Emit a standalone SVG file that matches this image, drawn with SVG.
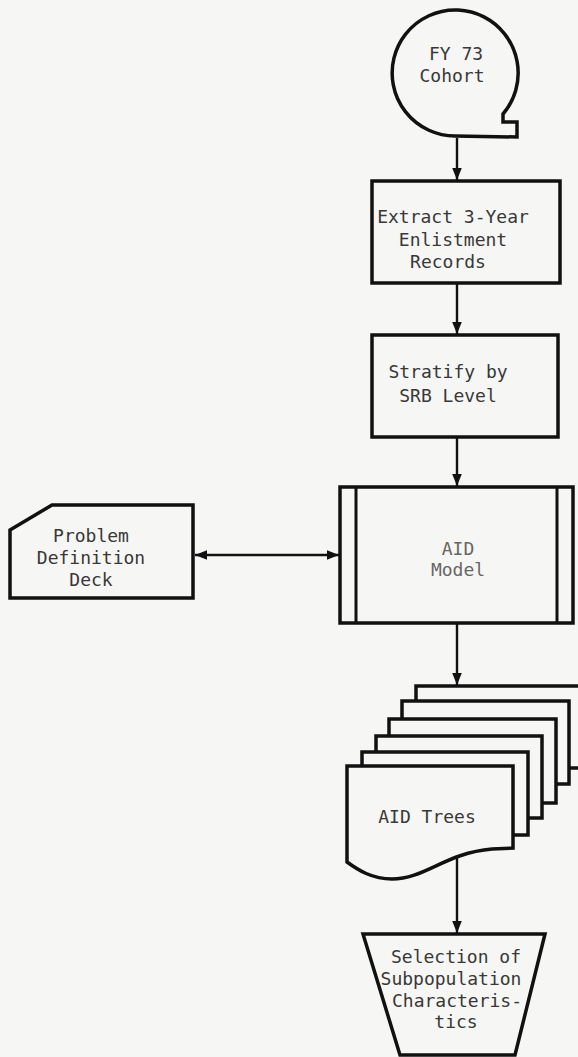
<svg xmlns="http://www.w3.org/2000/svg" width="578" height="1057" viewBox="0 0 578 1057">
<defs>
<style>
.s{fill:#f6f6f4;stroke:#111;stroke-width:3.5;stroke-linejoin:miter}
.c{fill:none;stroke:#111;stroke-width:2.4}
.t{font-family:"DejaVu Sans Mono","Liberation Mono",monospace;font-size:18px;fill:#383838;text-anchor:middle}
.g{fill:#666}
</style>
<marker id="ah" viewBox="0 0 10 10" refX="10" refY="5" markerWidth="12" markerHeight="12" markerUnits="userSpaceOnUse" orient="auto-start-reverse">
<path d="M0,1 L10,5 L0,9 Z" fill="#111"/>
</marker>
</defs>
<rect width="578" height="1057" fill="#f6f6f4"/>
<g id="connectors">
<line class="c" x1="457" y1="138" x2="457" y2="180" marker-end="url(#ah)"/>
<line class="c" x1="457" y1="284" x2="457" y2="334" marker-end="url(#ah)"/>
<line class="c" x1="457" y1="438" x2="457" y2="486" marker-end="url(#ah)"/>
<line class="c" x1="195" y1="555" x2="339" y2="555" marker-start="url(#ah)" marker-end="url(#ah)"/>
<line class="c" x1="457" y1="624" x2="457" y2="685" marker-end="url(#ah)"/>
<line class="c" x1="457" y1="858" x2="457" y2="933" marker-end="url(#ah)"/>
</g>
<g id="cohort">
<path class="s" d="M455,136 A63,63 0 1 1 503,114 L503,122 L517,122 L517,137 Z"/>
<text class="t" x="456" y="60">FY 73</text>
<text class="t" x="452" y="82">Cohort</text>
</g>
<g id="extract">
<rect class="s" x="372" y="181" width="188" height="102"/>
<text class="t" x="453" y="223">Extract 3-Year</text>
<text class="t" x="453" y="246">Enlistment</text>
<text class="t" x="448" y="268">Records</text>
</g>
<g id="stratify">
<rect class="s" x="372" y="335" width="186" height="102"/>
<text class="t" x="448" y="378">Stratify by</text>
<text class="t" x="448" y="402">SRB Level</text>
</g>
<g id="problem">
<path class="s" d="M52,505 L193,505 L193,598 L10,598 L10,530 Z"/>
<text class="t" x="91" y="542">Problem</text>
<text class="t" x="91" y="564">Definition</text>
<text class="t" x="91" y="586">Deck</text>
</g>
<g id="aid-model">
<rect class="s" x="340" y="487" width="233" height="136"/>
<line class="c" x1="356" y1="487" x2="356" y2="623" style="stroke-width:3"/>
<line class="c" x1="557" y1="487" x2="557" y2="623" style="stroke-width:3"/>
<text class="t g" x="458" y="555">AID</text>
<text class="t g" x="458" y="576">Model</text>
</g>
<g id="aid-trees">
<rect class="s" x="416" y="686" width="170" height="82"/>
<rect class="s" x="402" y="701" width="167" height="83"/>
<rect class="s" x="389" y="719" width="167" height="84"/>
<rect class="s" x="376" y="736" width="166" height="82"/>
<rect class="s" x="362" y="752" width="166" height="83"/>
<path class="s" d="M347,766 L513,766 L513,848 L492,849 C445,853 425,879 392,879 C372,879 358,870 347,862 Z"/>
<text class="t" x="427" y="823">AID Trees</text>
</g>
<g id="selection">
<path class="s" d="M363,934 L545,934 L515,1055 L400,1055 Z"/>
<text class="t" x="456" y="963">Selection of</text>
<text class="t" x="451" y="985">Subpopulation</text>
<text class="t" x="457" y="1007">Characteris-</text>
<text class="t" x="456" y="1028">tics</text>
</g>
</svg>
